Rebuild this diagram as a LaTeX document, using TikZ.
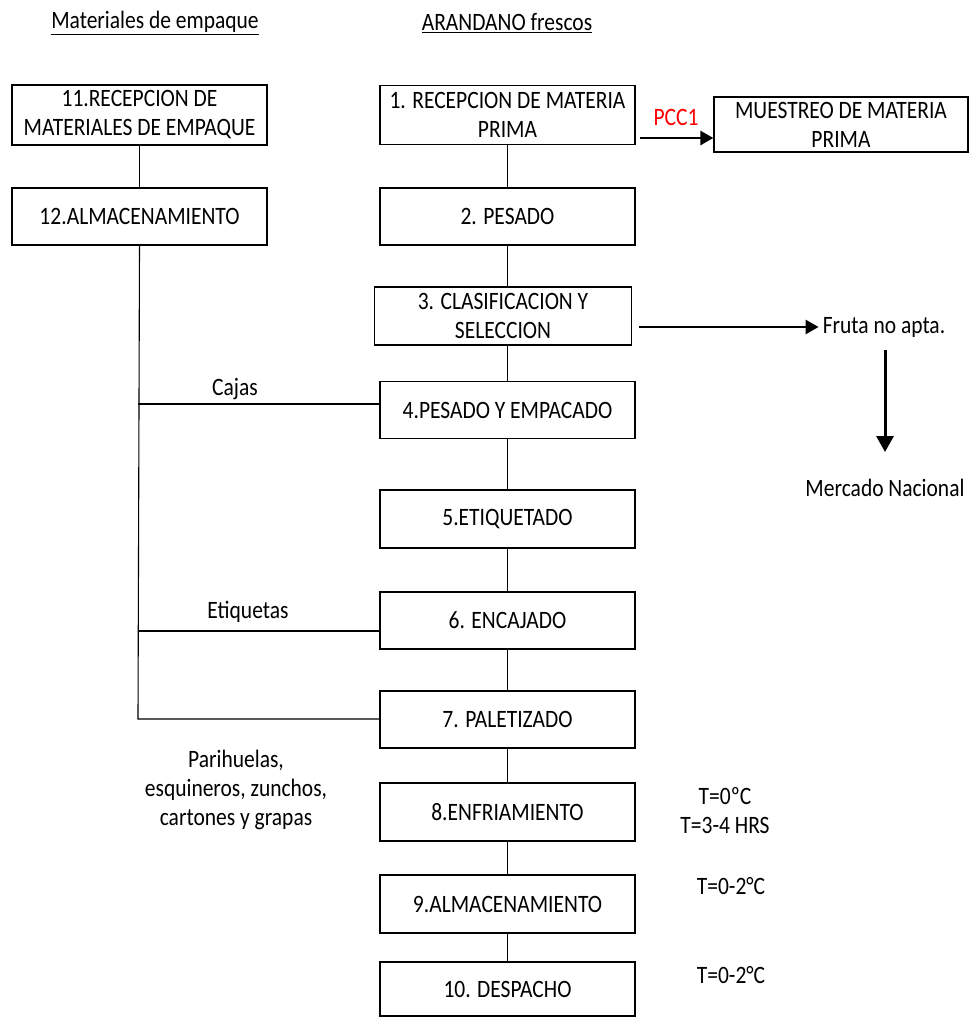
\documentclass[tikz,border=0pt]{standalone}
\usepackage{fontspec}
\setmainfont{Carlito}[FakeStretch=0.86]
\usetikzlibrary{arrows.meta,positioning}
\begin{document}
\begin{tikzpicture}[x=1pt,y=-1pt,
  every node/.style={font=\fontsize{25}{29}\selectfont, inner sep=0pt},
  box/.style={draw, line width=1.2pt, align=center, minimum width=255pt, minimum height=57pt},
  conn/.style={line width=1.1pt},
  bigarrow/.style={line width=2.6pt, -{Triangle[length=13pt,width=14pt]}},
  lbl/.style={align=center}]
\useasboundingbox (0,0) rectangle (969,1017);
% headers
\node (h1) at (155,23) {\underline{Materiales de empaque}};
\node (h2) at (507,23) {\underline{ARANDANO frescos}};
% left column
\node[box, minimum height=60pt] (b11) at (139.5,115) {11.RECEPCION DE\\MATERIALES DE EMPAQUE};
\node[box] (b12) at (139.5,216.5) {12.ALMACENAMIENTO};
% main column
\node[box, minimum height=59pt] (b1) at (507.5,115) {1. RECEPCION DE MATERIA\\PRIMA};
\node[box, minimum width=254pt, minimum height=55pt] (m) at (841,124.5) {MUESTREO DE MATERIA\\PRIMA};
\node[box] (b2) at (507.5,216.5) {2. PESADO};
\node[box, minimum width=257pt, minimum height=58pt] (b3) at (503,316) {3. CLASIFICACION Y\\SELECCION};
\node[box] (b4) at (507.5,410) {4.PESADO Y EMPACADO};
\node[box, minimum height=58pt] (b5) at (507.5,519) {5.ETIQUETADO};
\node[box] (b6) at (507.5,620.5) {6. ENCAJADO};
\node[box] (b7) at (507.5,719.5) {7. PALETIZADO};
\node[box, minimum height=58pt] (b8) at (507.5,812) {8.ENFRIAMIENTO};
\node[box, minimum height=58pt] (b9) at (507.5,904) {9.ALMACENAMIENTO};
\node[box, minimum height=54pt] (b10) at (507.5,989) {10. DESPACHO};
% side labels
\node[text=red] (pcc) at (676,117) {PCC1};
\node (fruta) at (884,327) {Fruta no apta.};
\node (merc) at (885,488) {Mercado Nacional};
\node (cajas) at (235,389) {Cajas};
\node (etiq) at (248,612) {Etiquetas};
\node[lbl] (pari) at (236,790) {Parihuelas,\\esquineros, zunchos,\\cartones y grapas};
\node[lbl] (t8) at (725,811) {T=0ºC\\T=3-4 HRS};
\node (t9) at (731,886) {T=0-2°C};
\node (t10) at (731,975) {T=0-2°C};
% connectors main
\draw[conn] (b1.south) -- (b2.north);
\draw[conn] (b2.south) -- (b2.south |- b3.north);
\draw[conn] (b2.south |- b3.south) -- (b4.north);
\draw[conn] (b4.south) -- (b5.north);
\draw[conn] (b5.south) -- (b6.north);
\draw[conn] (b6.south) -- (b7.north);
\draw[conn] (b7.south) -- (b8.north);
\draw[conn] (b8.south) -- (b9.north);
\draw[conn] (b9.south) -- (b10.north);
% left connectors
\coordinate (c1) at (138,404);
\coordinate (c2) at (138,631);
\coordinate (c3) at (138,719);
\draw[conn] (b11.south) -- (b12.north);
\draw[conn] (b12.south) -- (c3) -- (b7.west |- c3);
\draw[conn] (c1) -- (b4.west |- c1);
\draw[conn] (c2) -- (b6.west |- c2);
% arrows
\coordinate (a1) at (640,138);
\draw[bigarrow] (a1) -- (m.west |- a1);
\coordinate (a2) at (639,327);
\draw[bigarrow] (a2) -- ([xshift=-4pt]fruta.west |- a2);
\coordinate (a3) at (885,350);
\coordinate (a4) at (885,452);
\draw[line width=3pt, -{Triangle[length=16pt,width=17pt]}] (a3) -- (a4);
\end{tikzpicture}
\end{document}
